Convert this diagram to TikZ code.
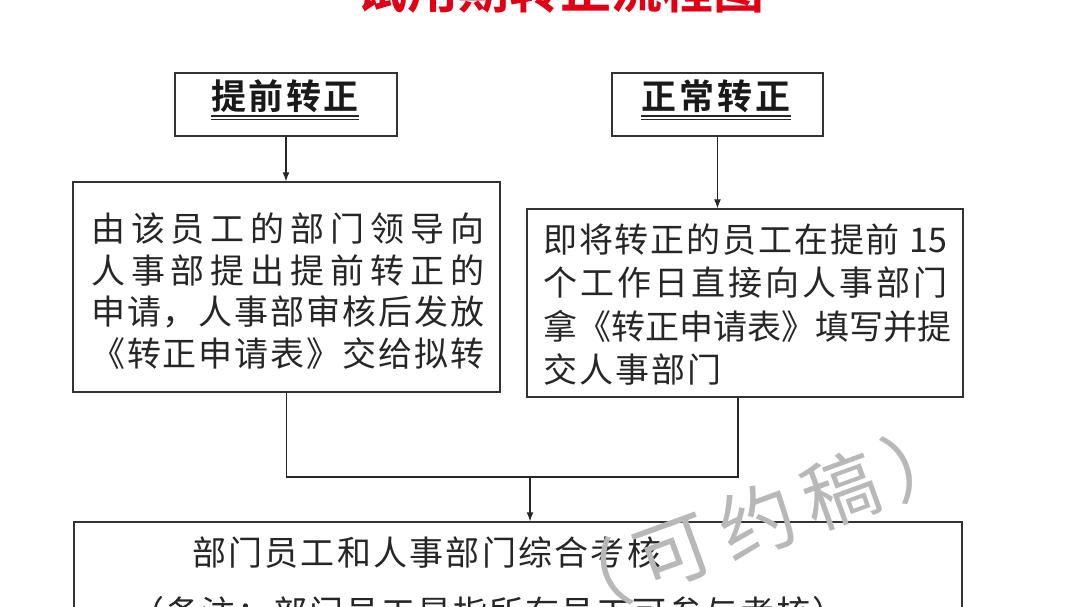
\documentclass[tikz,border=0pt]{standalone}
\usepackage{fontspec}
\setmainfont{Noto Sans CJK SC}[BoldFont={Noto Sans CJK SC Bold}]
\usetikzlibrary{arrows.meta}
\definecolor{titlered}{RGB}{225,0,20}
\def\sprd#1{\ifx\relax#1\else#1\hskip0pt plus1fil\expandafter\sprd\fi}
\newcommand\jline[2]{\makebox[#1][s]{\sprd#2\relax\unskip}}
\begin{document}
\begin{tikzpicture}[x=1pt,y=-1pt,
  box/.style={draw=black!80, line width=1.3pt, inner sep=0pt},
  txt/.style={inner sep=0pt, anchor=west, font=\fontsize{34}{40}\selectfont, text=black!85},
  hdr/.style={inner sep=0pt, font=\fontsize{35}{40}\selectfont\bfseries, text=black!90},
  ttl/.style={inner sep=0pt, anchor=base, font=\fontsize{51}{51}\selectfont\bfseries, text=titlered},
  wm/.style={inner sep=0pt, font=\fontsize{76}{76}\selectfont, text=black!28},
  uline/.style={line width=1.2pt, draw=black!85},
  conn/.style={line width=1.3pt, draw=black!85},
  arr/.style={conn, -{Latex[length=9pt,width=7pt]}}]
\useasboundingbox (0,0) rectangle (1080,607);
\fill[white] (0,0) rectangle (1080,607);
% title (cut off at top)
\node[ttl] (title) at (560,9) {试用期转正流程图};
% boxes
\node[box, minimum width=222pt, minimum height=63pt] (b1) at (286,104.5) {};
\node[box, minimum width=211pt, minimum height=63pt] (b2) at (717.5,104.5) {};
\node[box, minimum width=427pt, minimum height=210pt] (b3) at (286.5,287) {};
\node[box, minimum width=436pt, minimum height=188pt] (b4) at (745,303) {};
\node[box, minimum width=888pt, minimum height=140pt] (b5) at (518,592) {};
% headers
\node[hdr] (h1) at (285,96) {\jline{147pt}{提前转正}};
\node[hdr] (h2) at (716,96) {\jline{149pt}{正常转正}};
\draw[uline] (h1.west |- 0,116) -- (h1.east |- 0,116);
\draw[uline] (h1.west |- 0,119.5) -- (h1.east |- 0,119.5);
\draw[uline] (h2.west |- 0,116) -- (h2.east |- 0,116);
\draw[uline] (h2.west |- 0,119.5) -- (h2.east |- 0,119.5);
% box 3 text
\node[txt] (t31) at (91,229) {\jline{393pt}{由该员工的部门领导向}};
\node[txt] (t32) at (91,271) {\jline{393pt}{人事部提出提前转正的}};
\node[txt] (t33) at (91,312) {\jline{393pt}{申请，人事部审核后发放}};
\node[txt] (t34) at (91,354) {\jline{393pt}{《转正申请表》交给拟转}};
% box 4 text
\node[txt] (t41) at (543,240) {\jline{404pt}{即将转正的员工在提前{~15}}};
\node[txt] (t42) at (543,283) {\jline{404pt}{个工作日直接向人事部门}};
\node[txt] (t43) at (543,326) {\jline{404pt}{拿《转正申请表》填写并提}};
\node[txt] (t44) at (543,369) {\jline{178pt}{交人事部门}};
% box 5 text
\node[txt] (t51) at (192,553) {\jline{469pt}{部门员工和人事部门综合考核}};
\node[txt] (t52) at (130,613) {\jline{716pt}{（备注：部门员工是指所有员工可参与考核）}};
% connectors
\draw[arr] (b1.south) -- (b1.south |- b3.north);
\draw[arr] (b2.south) -- (b2.south |- b4.north);
\coordinate (jl) at (286.5,477);
\coordinate (jr) at (738,477);
\coordinate (jm) at (530,477);
\draw[conn] (b3.south) -- (jl) -- (jr) -- (jr |- b4.south);
\draw[arr] (jm) -- (jm |- b5.north);
% watermark
\node[wm, rotate=20] (wmk) at (757,521) {\jline{430pt}{（可约稿）}};
\end{tikzpicture}
\end{document}
